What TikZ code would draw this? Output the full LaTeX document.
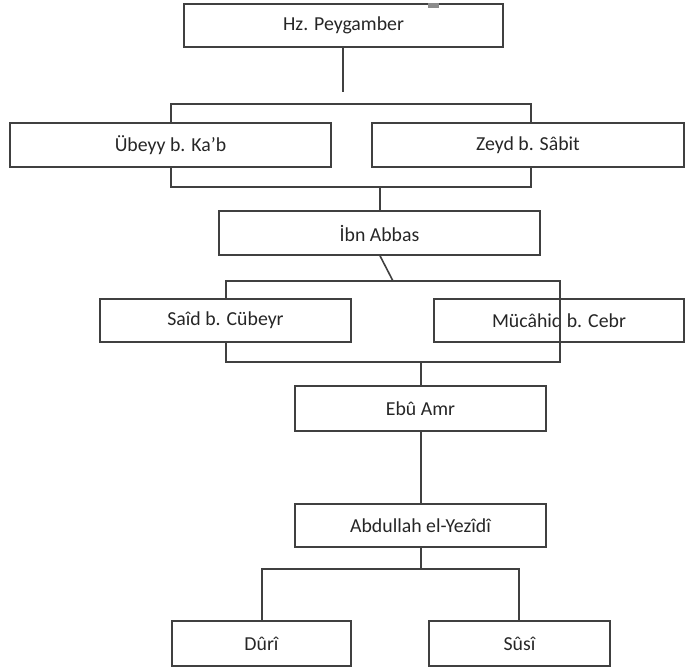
\documentclass[tikz,border=0pt]{standalone}
\usepackage{fontspec}
\setmainfont{Carlito}
\definecolor{lc}{HTML}{404040}
\definecolor{tc}{HTML}{262626}
\tikzset{
  box/.style={draw=lc, line width=1.6pt, rectangle, inner sep=0pt, text=tc,
    font=\fontsize{19.8}{23}\selectfont},
  conn/.style={draw=lc, line width=1.6pt}
}
\begin{document}
\begin{tikzpicture}[x=1pt,y=-1pt]
\useasboundingbox (0,0) rectangle (686,672);
% boxes
\node[box, minimum width=319pt, minimum height=43pt] (hz) at (343.5,25.5) {Hz. Peygamber};
\node[box, minimum width=321pt, minimum height=44pt] (ub) at (170.5,145) {Übeyy b. Ka’b};
\node[box, minimum width=312pt, minimum height=44pt] (ze) at (528,145) {Zeyd b. Sâbit};
\node[box, minimum width=321pt, minimum height=44pt] (ib) at (379.5,233) {İbn Abbas};
\node[box, minimum width=251pt, minimum height=43pt] (sa) at (225.5,320.5) {Saîd b. Cübeyr};
\node[box, minimum width=250pt, minimum height=43pt] (mu) at (559,320.5) {Mücâhid b. Cebr};
\node[box, minimum width=251pt, minimum height=45pt] (eb) at (420.5,408.5) {Ebû Amr};
\node[box, minimum width=251pt, minimum height=43pt] (ab) at (420.5,525.5) {Abdullah el-Yezîdî};
\node[box, minimum width=179pt, minimum height=45pt] (du) at (261.5,643.5) {Dûrî};
\node[box, minimum width=181pt, minimum height=45pt] (su) at (519.5,643.5) {Sûsî};
% small mark on top box
\fill[gray!90] (428,3) rectangle (439,7.5);
% coordinates
\coordinate (hzend) at (343,92);
\coordinate (t1l) at (171,104);
\coordinate (t1r) at (531,104);
\coordinate (u1l) at (171,187);
\coordinate (u1r) at (531,187);
\coordinate (u1m) at (380,187);
\coordinate (dg) at (393,281);
\coordinate (t2l) at (226,281);
\coordinate (t2r) at (560,281);
\coordinate (u2l) at (226,362);
\coordinate (u2r) at (560,362);
\coordinate (u2m) at (421,362);
\coordinate (t3l) at (262,569);
\coordinate (t3r) at (519,569);
\coordinate (t3m) at (421,569);
% connectors
\draw[conn] (hz.south -| hzend) -- (hzend);
\draw[conn] (ub.north -| t1l) -- (t1l) -- (t1r) -- (ze.north -| t1r);
\draw[conn] (ub.south -| u1l) -- (u1l) -- (u1r) -- (ze.south -| u1r);
\draw[conn] (u1m) -- (ib.north -| u1m);
\draw[conn] (ib.south -| u1m) -- (dg);
\draw[conn] (sa.north -| t2l) -- (t2l) -- (t2r) -- (u2r) -- (u2l) -- (sa.south -| u2l);
\draw[conn] (u2m) -- (eb.north -| u2m);
\draw[conn] (eb.south -| u2m) -- (ab.north -| u2m);
\draw[conn] (ab.south -| t3m) -- (t3m);
\draw[conn] (du.north -| t3l) -- (t3l) -- (t3r) -- (su.north -| t3r);
\end{tikzpicture}
\end{document}
